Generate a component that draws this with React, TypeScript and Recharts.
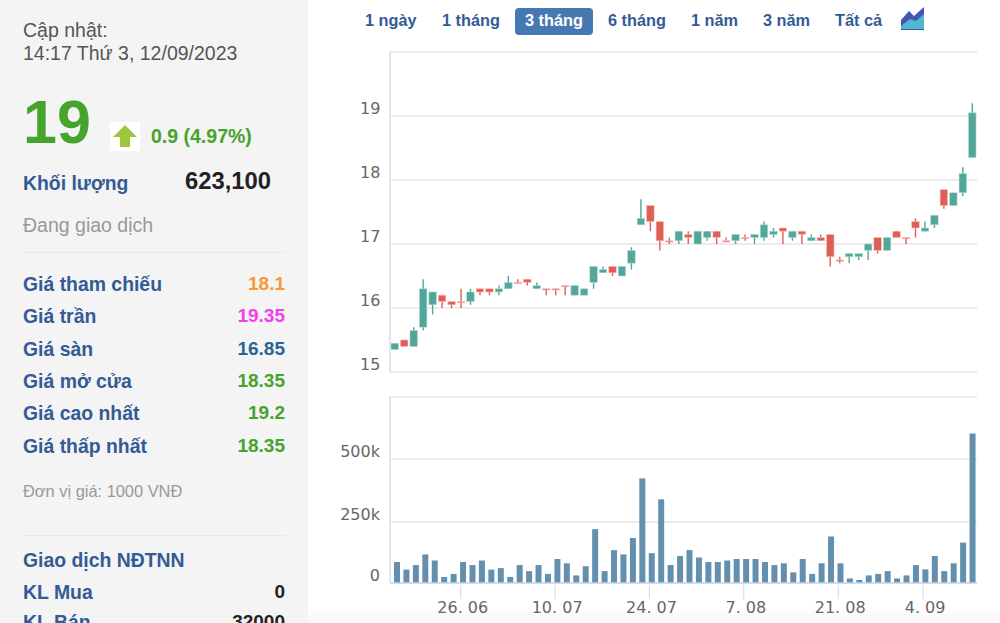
import { Bar, BarChart, CartesianGrid, XAxis, YAxis } from 'recharts';

const dates = [
  '15. 06', '16. 06', '19. 06', '20. 06', '21. 06', '22. 06', '23. 06', '26. 06', '27. 06', '28. 06', '29. 06',
  '30. 06', '3. 07', '4. 07', '5. 07', '6. 07', '7. 07', '10. 07', '11. 07', '12. 07', '13. 07', '14. 07',
  '17. 07', '18. 07', '19. 07', '20. 07', '21. 07', '24. 07', '25. 07', '26. 07', '27. 07', '28. 07', '31. 07',
  '1. 08', '2. 08', '3. 08', '4. 08', '7. 08', '8. 08', '9. 08', '10. 08', '11. 08', '14. 08', '15. 08',
  '16. 08', '17. 08', '18. 08', '21. 08', '22. 08', '23. 08', '24. 08', '25. 08', '28. 08', '29. 08', '30. 08',
  '31. 08', '4. 09', '5. 09', '6. 09', '7. 09', '8. 09', '12. 09',
];
const open = [
  15.35, 15.5, 15.4, 15.7, 16.05, 16.2, 16.1, 16.1, 16.1, 16.3, 16.3, 16.25, 16.3, 16.4, 16.45, 16.3, 16.3, 16.3,
  16.35, 16.2, 16.2, 16.4, 16.55, 16.65, 16.5, 16.7, 17.3, 17.6, 17.35, 17.05, 17.05, 17.15, 17.0, 17.1, 17.2, 17.05,
  17.05, 17.1, 17.1, 17.1, 17.15, 17.25, 17.1, 17.2, 17.05, 17.1, 17.15, 16.75, 16.8, 16.8, 16.9, 17.1, 16.9, 17.2,
  17.1, 17.35, 17.2, 17.3, 17.85, 17.6, 17.8, 18.35,
];
const close = [
  15.45, 15.4, 15.65, 16.3, 16.25, 16.1, 16.05, 16.1, 16.25, 16.25, 16.25, 16.3, 16.4, 16.4, 16.4, 16.35, 16.3, 16.3,
  16.35, 16.35, 16.3, 16.65, 16.6, 16.55, 16.65, 16.9, 17.4, 17.35, 17.05, 17.05, 17.2, 17.1, 17.2, 17.2, 17.1, 17.05,
  17.15, 17.1, 17.15, 17.3, 17.2, 17.2, 17.2, 17.15, 17.1, 17.05, 16.8, 16.75, 16.85, 16.85, 17.0, 16.9, 17.1, 17.1,
  17.1, 17.25, 17.25, 17.45, 17.6, 17.8, 18.1, 19.05,
];
const high = [
  15.45, 15.5, 15.7, 16.45, 16.25, 16.2, 16.1, 16.3, 16.3, 16.3, 16.3, 16.35, 16.5, 16.45, 16.45, 16.4, 16.3, 16.3,
  16.35, 16.35, 16.3, 16.65, 16.65, 16.65, 16.65, 16.95, 17.7, 17.6, 17.35, 17.1, 17.2, 17.2, 17.2, 17.2, 17.2, 17.1,
  17.15, 17.15, 17.15, 17.35, 17.25, 17.25, 17.2, 17.2, 17.15, 17.15, 17.15, 16.8, 16.85, 16.85, 17.0, 17.1, 17.1, 17.2,
  17.1, 17.4, 17.35, 17.45, 17.85, 17.8, 18.2, 19.2,
];
const low = [
  15.35, 15.4, 15.4, 15.65, 15.9, 16.0, 16.0, 16.0, 16.05, 16.2, 16.2, 16.2, 16.3, 16.4, 16.35, 16.3, 16.2, 16.2,
  16.2, 16.2, 16.2, 16.3, 16.55, 16.5, 16.5, 16.6, 17.3, 17.2, 16.9, 17.0, 17.0, 17.0, 17.0, 17.05, 17.0, 17.05,
  17.0, 17.05, 17.0, 17.05, 17.1, 17.0, 17.05, 17.0, 17.05, 17.05, 16.65, 16.7, 16.7, 16.75, 16.75, 16.85, 16.9, 17.1,
  17.0, 17.1, 17.2, 17.25, 17.55, 17.6, 17.75, 18.35,
];
const volume = [
  92000, 62000, 80000, 122000, 98000, 33000, 45000, 92000, 80000, 98000, 62000, 68000, 33000, 80000, 56000, 80000,
  45000, 104000, 87000, 39000, 75000, 222000, 56000, 139000, 122000, 187000, 423000, 127000, 340000, 80000, 116000,
  139000, 110000, 92000, 92000, 98000, 104000, 104000, 104000, 92000, 80000, 87000, 51000, 104000, 45000, 87000, 193000,
  87000, 27000, 21000, 39000, 45000, 56000, 27000, 39000, 80000, 63000, 116000, 56000, 87000, 169000, 601000,
];
const dateTicks = ['26. 06', '10. 07', '24. 07', '7. 08', '21. 08', '4. 09'];
const priceTicks = [15, 16, 17, 18, 19, 20];
// the baseline sits a little above true zero in the reference, so the axis starts at volumeFloor
const volumeFloor = 9000;
const volumeTop = 745000;
const volumeTicks = [volumeFloor, 250000, 500000, volumeTop];
const ranges = ['1 ngày', '1 tháng', '3 tháng', '6 tháng', '1 năm', '3 năm', 'Tất cả'];
const rangeX = [365, 442, 525, 608, 691, 763, 835];
const priceRows = [
  ['Giá tham chiếu', '18.1', '#f79a33'],
  ['Giá trần', '19.35', '#f43df0'],
  ['Giá sàn', '16.85', '#2a6496'],
  ['Giá mở cửa', '18.35', '#46a32c'],
  ['Giá cao nhất', '19.2', '#46a32c'],
  ['Giá thấp nhất', '18.35', '#46a32c'],
];

const priceData = dates.map((date, i) => ({
  date,
  open: open[i],
  close: close[i],
  range: [low[i], high[i]],
}));
const volumeData = dates.map((date, i) => ({ date, volume: volume[i] }));

const axisFont = '"DejaVu Sans", sans-serif';
const panelFont = '"Liberation Sans", Arial, sans-serif';
const blue = '#335b95';

function Candle(props: any) {
  const { x, y, width, height, payload } = props;
  const [lo, hi] = payload.range;
  const perUnit = height / (hi - lo || 1);
  const top = y + (hi - Math.max(payload.open, payload.close)) * perUnit;
  const bodyH = Math.max(Math.abs(payload.open - payload.close) * perUnit, 1.2);
  const up = payload.close > payload.open;
  const fill = up ? '#52a69a' : '#e05e55';
  const edge = up ? '#b4dbd5' : '#f4c2be';
  return (
    <g>
      <line x1={x + width / 2} x2={x + width / 2} y1={y} y2={y + height} stroke={fill} strokeWidth={1.4} />
      <rect x={x} y={top} width={width} height={bodyH} fill={fill} stroke={edge} strokeWidth={0.6} />
    </g>
  );
}

function PriceTick({ y, payload }: any) {
  if (payload.value === 20) return null;
  return (
    <text x={30} y={y - 2.5} fontSize={16} fontFamily={axisFont} fill="#666">
      {payload.value}
    </text>
  );
}

function VolumeTick({ y, payload }: any) {
  if (payload.value === volumeTop) return null;
  return (
    <text x={50} y={y - 2} textAnchor="end" fontSize={16} fontFamily={axisFont} fill="#666">
      {payload.value === volumeFloor ? '0' : `${payload.value / 1000}k`}
    </text>
  );
}

function DateTick({ x, y, payload }: any) {
  return (
    <g>
      <line x1={x - 2} x2={x - 2} y1={y} y2={y + 14} stroke="#ccd6eb" />
      <text x={x} y={y + 28} textAnchor="middle" fontSize={16} fontFamily={axisFont} fill="#666">
        {payload.value}
      </text>
    </g>
  );
}

function Text({ x, y, right, size = 19.5, bold, color, children }: any) {
  return (
    <div
      style={{
        position: 'absolute',
        top: y,
        left: right === undefined ? x : undefined,
        right: right === undefined ? undefined : 1000 - right,
        fontSize: size,
        fontWeight: bold ? 700 : 400,
        color,
        lineHeight: '20px',
        whiteSpace: 'nowrap',
      }}
    >
      {children}
    </div>
  );
}

export default function App() {
  return (
    <div
      style={{
        position: 'absolute',
        left: 0,
        top: 0,
        width: 1000,
        height: 623,
        overflow: 'hidden',
        background: '#fff',
        fontFamily: panelFont,
      }}
    >
      <div style={{ position: 'absolute', left: 0, top: 0, width: 308, height: 623, background: '#f4f4f4' }} />
      <div
        style={{
          position: 'absolute',
          left: 308,
          top: 607,
          width: 692,
          height: 16,
          background: 'linear-gradient(#fff, #f6f6f6)',
        }}
      />

      <Text x={23} y={20} color="#555">Cập nhật:</Text>
      <Text x={23} y={43} color="#555">14:17 Thứ 3, 12/09/2023</Text>
      <Text x={23} y={112} size={61} bold color="#46a32c">19</Text>
      <div style={{ position: 'absolute', left: 110, top: 122, width: 30, height: 29, background: '#fff' }}>
        <svg width={30} height={29}>
          <polygon points="15,3 27,15 20,15 20,25 10,25 10,15 3,15" fill="#9cc63c" />
        </svg>
      </div>
      <Text x={151} y={126} bold color="#46a32c">0.9 (4.97%)</Text>
      <Text x={23} y={173} size={19.4} bold color={blue}>Khối lượng</Text>
      <Text x={185} y={171} size={23.8} bold color="#222">623,100</Text>
      <Text x={23} y={215} color="#999">Đang giao dịch</Text>
      <div style={{ position: 'absolute', left: 23, top: 252, width: 262, height: 1, background: '#e9e9e9' }} />
      {priceRows.map(([label, value, color], i) => (
        <div key={label}>
          <Text x={23} y={274 + i * 32.3} size={19.4} bold color={blue}>{label}</Text>
          <Text right={285} y={274 + i * 32.3} size={19} bold color={color}>{value}</Text>
        </div>
      ))}
      <Text x={23} y={481} size={16.4} color="#999">Đơn vị giá: 1000 VNĐ</Text>
      <div style={{ position: 'absolute', left: 23, top: 535, width: 262, height: 1, background: '#e9e9e9' }} />
      <Text x={23} y={550} size={19.4} bold color={blue}>Giao dịch NĐTNN</Text>
      <Text x={23} y={582} size={19.4} bold color={blue}>KL Mua</Text>
      <Text right={285} y={582} size={19} bold color="#222">0</Text>
      <Text x={23} y={612} size={19.4} bold color={blue}>KL Bán</Text>
      <Text right={285} y={612} size={19} bold color="#222">32000</Text>

      <div
        style={{ position: 'absolute', left: 515, top: 8, width: 78, height: 27, borderRadius: 4, background: '#4679b2' }}
      />
      {ranges.map((label, i) => (
        <Text key={label} x={rangeX[i]} y={10} size={16.3} bold color={i === 2 ? '#fff' : blue}>
          {label}
        </Text>
      ))}
      <svg style={{ position: 'absolute', left: 900, top: 6 }} width={25} height={24}>
        <polygon points="1,24 1,14 9,5 14,10 24,1 24,24" fill="#4357b2" />
        <polygon points="1,23 1,20 10,13 16,15 24,8 24,23" fill="#4fb8cf" />
      </svg>

      <div style={{ position: 'absolute', left: 330, top: 40.5 }}>
        <BarChart
          width={660}
          height={340}
          data={priceData}
          barCategoryGap={0}
          margin={{ top: 11, right: 13, bottom: 9, left: 0 }}
        >
          <CartesianGrid vertical={false} stroke="#e6e6e6" strokeWidth={1.5} />
          <XAxis dataKey="date" hide />
          <YAxis
            width={60}
            domain={[15, 20]}
            ticks={priceTicks}
            tick={<PriceTick />}
            tickLine={false}
            axisLine={{ stroke: '#d8dcf0', strokeWidth: 1.5 }}
          />
          <Bar dataKey="range" barSize={7.5} shape={<Candle />} isAnimationActive={false} />
        </BarChart>
      </div>

      <div style={{ position: 'absolute', left: 330, top: 385 }}>
        <BarChart
          width={660}
          height={238}
          data={volumeData}
          margin={{ top: 12, right: 13, bottom: 0, left: 0 }}
        >
          <CartesianGrid vertical={false} stroke="#e6e6e6" strokeWidth={1.5} />
          <XAxis
            dataKey="date"
            height={40}
            ticks={dateTicks}
            interval={0}
            tick={<DateTick />}
            tickLine={false}
            tickSize={0}
            axisLine={{ stroke: '#ccd6eb', strokeWidth: 1.5 }}
            padding={{ left: 2, right: 0 }}
          />
          <YAxis
            width={60}
            domain={[volumeFloor, volumeTop]}
            ticks={volumeTicks}
            tick={<VolumeTick />}
            tickLine={false}
            axisLine={{ stroke: '#d8dcf0', strokeWidth: 1.5 }}
          />
          <Bar dataKey="volume" barSize={6} fill="#6390af" isAnimationActive={false} />
        </BarChart>
      </div>
    </div>
  );
}
